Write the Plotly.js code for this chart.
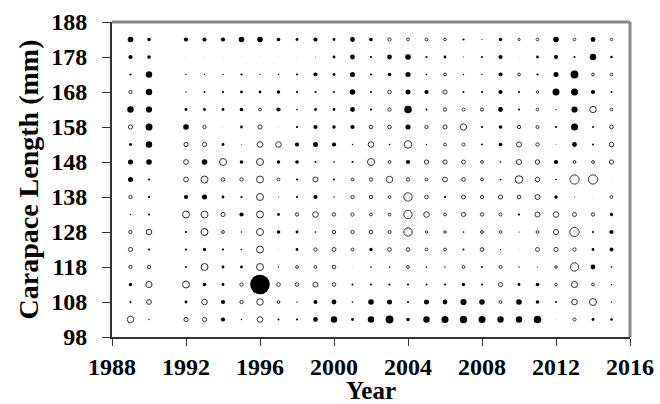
<!DOCTYPE html>
<html>
<head>
<meta charset="utf-8">
<script src="https://cdn.plot.ly/plotly-3.0.1.min.js"></script>
<style>html,body{margin:0;padding:0;background:#fff;}#chart{width:660px;height:404px;}</style>
</head>
<body>
<div id="chart"></div>
<script>
// Years sampled (1991 missing)
var years = [1989,1990,1992,1993,1994,1995,1996,1997,1998,1999,2000,2001,2002,2003,2004,2005,2006,2007,2008,2009,2010,2011,2012,2013,2014,2015];
// Carapace length bins (mm)
var lengths = [103,108,113,118,123,128,133,138,143,148,153,158,163,168,173,178,183];
// Residuals per length bin (positive = filled, negative = open), one value per year
var r103 = [-2.3,0.5,-1.5,-1.5,1.5,0.5,-2,0.7,0.8,1.7,2.3,1,2.3,2.8,1.2,2.3,2.5,2.7,2.5,2.3,2.3,2.7,0.2,-1.1,1,0.9];
var r108 = [0.7,-1.7,1,-2,1.5,-1.2,-2.3,-1,0.5,1.4,1.7,0.6,2,1.8,0.7,1.8,1.7,2.2,2,-1,2,1.3,0.7,-2,-2.5,0.5];
var r113 = [1.2,-2.2,-2.5,1.3,1,-1.2,7,-1.3,-1.3,-1.8,-1.3,0.7,0.7,0.8,0.8,0.7,0.8,1.2,0.8,-1.5,1,1.3,-0.9,-2.2,-1,0.5];
var r118 = [-1.2,-1.2,0.7,-2.5,1,1,-2.5,0.5,-1,-1,-1.3,0.2,0.6,0.6,-1,0.6,0.5,-1,0.7,-1.1,0.5,0.4,-0.9,-3,1.7,0.6];
var r123 = [-1.5,0.8,0.8,1.2,0.8,0.6,-2.5,0.2,1,-1.2,-1.4,-1,1.2,-1.3,-1.3,-1,-1,0.7,-1.3,0.4,0.2,-1.4,-1.5,-1.2,1,1.4];
var r128 = [-1.2,-2,0.8,-2.5,-1,0.5,-2.5,1.3,1,0.6,-1.2,-1.2,-1.3,-1.1,-3,-0.9,-0.9,0.6,-1,-1,0.4,-1,-1.8,-3.3,0.8,1.5];
var r133 = [0.5,0.7,-2.5,-2.5,-1.5,1.5,-2.5,1,-1.2,-2,-1.2,-1.2,-1,-1,-3,-2,-1,-1.5,-1.2,-1.1,0.8,-1.8,-2,-1.4,-1.2,1.2];
var r138 = [-1.2,0.8,1.5,1.8,1,0.8,-2.5,0.4,0.8,1.5,0.5,-1.2,-1.2,-1,-3,-1.3,0.8,-1.4,-1.2,-1.5,-1.3,-1.8,1.2,0.4,0.2,-1];
var r143 = [1.8,0.8,-1.7,-2.5,-1.3,-1.2,-2.5,-1,0.8,-1.8,0.8,-1,-1.2,-2.3,-1.2,-1,-1.7,-1.3,-1,0.6,-2.7,-1.6,0.6,-3.3,-3.3,0.2];
var r148 = [1.8,2,-1.7,2,-2.5,1.3,-2.5,1.2,1.3,0.7,0.6,0.7,-2.5,-1,1.5,-1.5,-1.5,-1.4,-1,0.6,-1.8,-1.6,1.5,-1,-1,-1.5];
var r153 = [1,2.3,-1.5,-1.5,1,0.3,-2,-2,1.5,1.8,1.5,0.5,-2,0.6,-2.7,0.5,-1,-1.1,0.7,1.3,-1.8,-1.2,0.3,1.7,0.7,-1.6];
var r158 = [-1.5,2.5,2,-1.2,0.2,1,-1.5,0.2,0.8,1.5,1.2,1.5,-1.3,-1.3,1.8,-1.2,-1.5,-2.3,0.8,1.3,-1.2,-1.1,0.8,2.5,0.7,-1.3];
var r163 = [2.3,2.2,1,1,1,1.3,-1,1.5,0.6,1,1,1.7,0.8,-1.2,2.7,0.7,-1.2,-1.1,-1.1,1.7,0.8,-1,0.5,2.2,-2.3,-1];
var r168 = [-1.2,2.3,0.5,0.7,0.8,1,1,1.2,0.8,0.8,0.7,2,0.7,-1.3,1.8,1.5,-1.5,0.7,0.8,1.5,0.7,-0.9,2.5,2.5,1.5,0.7];
var r173 = [0.8,2.3,0.5,0.5,0.5,0.8,0.5,0.5,0.8,1.5,1,1.8,0.8,1.3,1.8,0.6,-1,0.5,0.5,1.5,-1,0.8,1.8,2.8,-1,-1];
var r178 = [1.5,1.3,0.2,0.2,0.2,0.2,0.2,0.2,0.2,0.3,1,1.7,0.8,1.7,2,0.8,1,0.4,0.7,1.5,0.2,1,1.5,0.7,2.3,0.9];
var r183 = [2,1.2,1.5,1.5,1.5,2,2,1.3,1,1.5,1,1.7,1.3,-1.2,-1,-1,-0.9,0.8,0.4,1.2,-0.8,-1,2,-0.9,1.7,-0.9];
var yTicks = [98,108,118,128,138,148,158,168,178,188];
var xTicks = [1988,1992,1996,2000,2004,2008,2012,2016];

var rows = [r103,r108,r113,r118,r123,r128,r133,r138,r143,r148,r153,r158,r163,r168,r173,r178,r183];
var SCALE = 2.8;
var pos = {x:[],y:[],s:[]}, neg = {x:[],y:[],s:[]};
rows.forEach(function(row, i){
  row.forEach(function(v, j){
    var t = v >= 0 ? pos : neg;
    t.x.push(years[j]); t.y.push(lengths[i]); t.s.push(Math.abs(v)*SCALE);
  });
});

var font = {family:'"Liberation Serif", "Times New Roman", serif', color:'#000', weight:'bold'};
var traces = [
  {type:'scatter', mode:'markers', x:pos.x, y:pos.y, marker:{symbol:'circle', size:pos.s, color:'#000', opacity:1, line:{width:0}}, hoverinfo:'skip'},
  {type:'scatter', mode:'markers', x:neg.x, y:neg.y, marker:{symbol:'circle-open', size:neg.s, color:'#333', opacity:1, line:{width:1, color:'#333'}}, hoverinfo:'skip'}
];
var layout = {
  width:660, height:404,
  margin:{l:112, r:30, t:22, b:67, pad:0},
  paper_bgcolor:'#fff', plot_bgcolor:'#fff',
  showlegend:false,
  font:font,
  xaxis:{range:[1988,2016], tickvals:xTicks, ticktext:xTicks.map(String), showgrid:false, zeroline:false,
         showline:true, linecolor:'#333', linewidth:2, ticks:'outside', ticklen:7, tickwidth:1, tickcolor:'#333',
         tickfont:Object.assign({}, font, {size:24}), ticklabelstandoff:0,
         title:{text:'Year', font:Object.assign({}, font, {size:25}), standoff:0}},
  yaxis:{range:[98,188], tickvals:yTicks, ticktext:yTicks.map(String), showgrid:false, zeroline:false,
         showline:true, linecolor:'#333', linewidth:2, ticks:'outside', ticklen:8, tickwidth:1, tickcolor:'#333',
         tickfont:Object.assign({}, font, {size:24}), ticklabelstandoff:10,
         title:{text:'Carapace Length (mm)', font:Object.assign({}, font, {size:28}), standoff:4}},
  shapes:[
    {type:'line', xref:'paper', yref:'paper', x0:0, x1:1, y0:1, y1:1, line:{color:'#888', width:3}},
    {type:'line', xref:'paper', yref:'paper', x0:1, x1:1, y0:0, y1:1, line:{color:'#888', width:3}}
  ]
};
Plotly.newPlot('chart', traces, layout, {staticPlot:true, displayModeBar:false});
</script>
</body>
</html>
